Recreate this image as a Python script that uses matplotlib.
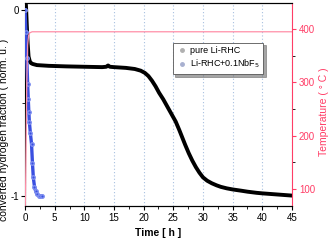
import matplotlib
matplotlib.use("Agg")
import matplotlib.pyplot as plt
from matplotlib.ticker import MultipleLocator

plt.rcParams['font.family'] = ['Liberation Sans', 'DejaVu Sans']

# Pure Li-RHC (black)
t_pure = [0.15, 0.2, 0.3, 0.45, 0.6, 0.8, 1.0, 1.3, 2, 4, 7, 10, 13, 13.7, 14, 14.3, 15, 17, 18.5, 19.5, 20.2, 20.8, 21.4, 22.0, 22.6, 23.3, 24.0, 24.7, 25.4, 26.0, 26.5, 27.0, 27.6, 28.2, 28.8, 29.4, 30, 30.7, 31.5, 32.3, 33, 34, 35, 36.5, 37.5, 39, 40, 42.5, 45]
v_pure = [0.03, 0.0, -0.08, -0.18, -0.25, -0.275, -0.285, -0.29, -0.296, -0.300, -0.303, -0.305, -0.307, -0.305, -0.298, -0.305, -0.307, -0.311, -0.317, -0.326, -0.338, -0.355, -0.38, -0.41, -0.445, -0.48, -0.52, -0.56, -0.60, -0.645, -0.685, -0.725, -0.77, -0.81, -0.845, -0.875, -0.90, -0.918, -0.932, -0.943, -0.951, -0.959, -0.965, -0.972, -0.977, -0.983, -0.986, -0.992, -0.998]

# Li-RHC + 0.1NbF5 (blue)
t_nb = [0.0, 0.15, 0.3, 0.45, 0.55, 0.65, 0.73, 0.9, 1.1, 1.25, 1.4, 1.6, 1.8, 2.0, 2.3, 2.6, 2.8]
v_nb = [0.0, -0.12, -0.26, -0.40, -0.48, -0.55, -0.60, -0.66, -0.72, -0.82, -0.90, -0.95, -0.975, -0.99, -0.998, -1.0, -1.0]

# Temperature (pink)
t_temp = [0.0, 0.1, 0.2, 0.3, 0.45, 0.6, 0.8, 1.2, 2, 5, 10, 20, 30, 40, 45]
v_temp = [40, 100, 200, 300, 370, 388, 393, 395, 395, 395, 395, 395, 395, 395, 395]

x_ticks = [0, 5, 10, 15, 20, 25, 30, 35, 40, 45]
left_ticks = [0, -1]
left_labels = ['0', '-1']
right_ticks = [100, 200, 300, 400]

pink = '#ff3d66'
fig = plt.figure(figsize=(3.28, 2.42), dpi=100)
ax = fig.add_axes([25/328, 1-206/242, (292-25)/328, (206-3)/242])
ax2 = ax.twinx()

ax.plot(t_pure, v_pure, color='black', lw=2.8, solid_joinstyle='round', solid_capstyle='round', zorder=3)
ax.plot(t_nb, v_nb, color='#3a4fe0', lw=2.4, marker='o', ms=2.5, mec='#7f8ff0', mfc='#3a4fe0',
        solid_joinstyle='round', zorder=4)
ax2.plot(t_temp, v_temp, color='#ff8fa8', lw=0.9)

# legend entries
ax.plot([], [], ls='none', marker='o', ms=2.5, color='#b0b0b0', label='pure Li-RHC')
ax.plot([], [], ls='none', marker='o', ms=2.5, color='#a8b0d0', label='Li-RHC+0.1NbF$_5$')

ax.set_xlim(0, 45)
ax.set_ylim(-1.054, 0.038)
ax2.set_ylim(68, 449)
ax.set_xticks(x_ticks)
ax.xaxis.set_minor_locator(MultipleLocator(2.5))
ax.set_yticks(left_ticks)
ax.set_yticklabels(left_labels)
ax.yaxis.set_minor_locator(MultipleLocator(0.5))
ax2.set_yticks(right_ticks)
ax2.yaxis.set_minor_locator(MultipleLocator(50))

for a in (ax, ax2):
    a.tick_params(which='both', direction='out', labelsize=7, pad=2)
    a.tick_params(which='major', length=3)
    a.tick_params(which='minor', length=2)
ax.tick_params(axis='y', pad=1.5)
ax.grid(axis='x', color='#a8c0e0', ls=(0, (1, 2)), lw=0.8)
ax.set_axisbelow(True)

ax2.spines['right'].set_color(pink)
ax2.tick_params(axis='y', colors=pink, labelcolor=pink)
ax2.spines['left'].set_visible(False)
ax.spines['right'].set_visible(False)

ax.set_xlabel('Time [ h ]', fontsize=7.5, fontweight='bold')
ax.xaxis.set_label_coords((158-25)/267, (206-228)/203)
ax.set_ylabel('converted hydrogen fraction ( norm. u. )', fontsize=7.5)
ax.yaxis.set_label_coords((9-25)/267, (206-130)/203)
ax2.set_ylabel('Temperature ( ° C )', fontsize=7.5, color=pink)
ax2.yaxis.set_label_coords((319-25)/267, (206-112)/203)

leg = ax.legend(loc='upper left', bbox_to_anchor=((168-25)/267, (206-38)/203), fontsize=6.5,
                frameon=True, fancybox=False, shadow=True, handletextpad=0.3,
                borderpad=0.4, labelspacing=0.3, handlelength=1.2)
leg.get_frame().set_edgecolor('#555555')
leg.get_frame().set_linewidth(0.6)
leg.set_zorder(10)

fig.savefig('out.png', dpi=100)
